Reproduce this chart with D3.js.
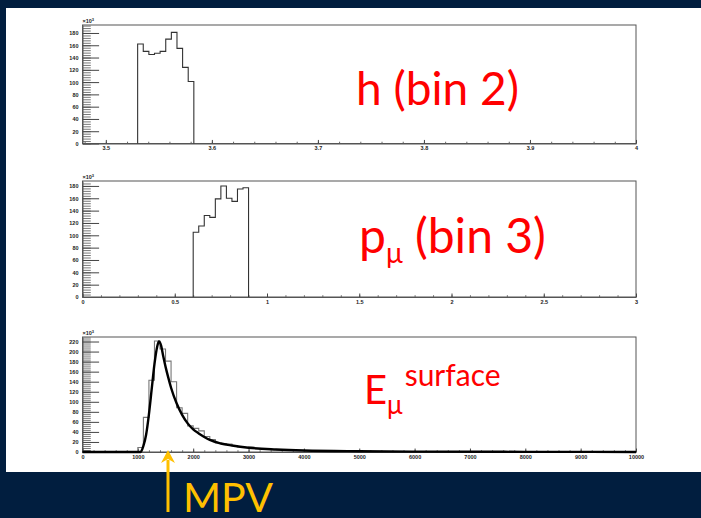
<!DOCTYPE html>
<html>
<head>
<meta charset="utf-8">
<script src="https://cdn.jsdelivr.net/npm/d3@7"></script>
<style>
  body { margin: 0; background: #011e3f; }
  svg { display: block; }
  .tick text { font-family: "Liberation Sans", Arial, sans-serif; font-weight: bold; font-size: 5.5px; fill: #222; }
  .lbl { font-family: Lato, "Open Sans", sans-serif; fill: #ff0000; }
</style>
</head>
<body>
<div id="chart"></div>
<script>
// histogram contents (units of 10^3 entries)
var hLo = 3.53, hHi = 3.583;
var hCounts = [162, 150, 145, 147, 150, 170, 181, 155, 124, 101];

var pLo = 0.6, pHi = 0.9;
var pCounts = [105, 115, 132, 129, 159, 180, 160, 155, 175, 177];

var eLo = 1000, eHi = 5000;
var eCounts = [9, 69, 143, 221, 205, 181, 140, 88, 77, 52,
               47, 42, 31, 25, 18, 17, 16, 13, 10, 9,
               10, 7, 6, 5, 5, 4, 4, 3, 3, 3,
               2, 2, 2, 2, 1, 1, 1, 1, 1, 1];

// landau-like fit drawn over the energy histogram
var fitX = [0, 1000, 1050, 1100, 1150, 1200, 1250, 1300, 1350, 1380, 1420, 1460, 1500, 1550, 1600,
            1700, 1800, 1900, 2000, 2100, 2200, 2300, 2500, 2700, 3000, 3500, 4000, 5000, 6000, 8000, 10000];
var fitY = [0, 0, 0, 12, 35, 75, 125, 175, 210, 220, 212, 190, 170, 148, 128,
            97, 74, 57, 45, 37, 30, 24, 17, 13, 8.5, 5, 3, 1.5, 0.8, 0.3, 0.1];

var hTicks = ["3.5", "3.6", "3.7", "3.8", "3.9", "4"];
var pTicks = ["0", "0.5", "1", "1.5", "2", "2.5", "3"];
var eTicks = ["0", "1000", "2000", "3000", "4000", "5000", "6000", "7000", "8000", "9000", "10000"];

var W = 701, H = 518;
var svg = d3.select("#chart").append("svg").attr("width", W).attr("height", H);

svg.append("rect").attr("width", W).attr("height", H).attr("fill", "#011e3f");
svg.append("rect").attr("x", 6).attr("y", 8).attr("width", W - 6).attr("height", 464).attr("fill", "#ffffff");

function drawPanel(cfg) {
  var g = svg.append("g").attr("transform", `translate(${cfg.left}, ${cfg.top})`);
  var w = cfg.width, h = cfg.height;

  var x = d3.scaleLinear().domain(cfg.xdom).range([0, w]);
  var y = d3.scaleLinear().domain([0, cfg.ymax]).range([h, 0]);

  // frame
  g.append("rect").attr("width", w).attr("height", h)
    .attr("fill", "none").attr("stroke", "#555").attr("stroke-width", 1);

  // y axis, ticks pointing inward like ROOT
  var yMajor = d3.range(0, cfg.ymax, 20);
  var yMinor = d3.range(0, cfg.ymax, 4);
  g.append("g").call(d3.axisLeft(y).tickValues(yMinor).tickSize(-w * 0.015).tickFormat(""))
    .call(s => s.select(".domain").remove())
    .selectAll("line").attr("stroke", "#777");
  g.append("g").call(d3.axisLeft(y).tickValues(yMajor).tickSize(-w * 0.03).tickPadding(4).tickSizeOuter(0))
    .call(s => s.select(".domain").attr("stroke", "#555"))
    .call(s => s.selectAll("text").attr("dy", "0.35em"))
    .selectAll("line").attr("stroke", "#444");

  // x axis
  var xMajor = cfg.xticks.map(Number);
  var step = (xMajor[1] - xMajor[0]) / 5;
  var xMinor = d3.range(cfg.xdom[0], cfg.xdom[1] + step / 2, step / 1)
    .map(v => Math.round((v - xMajor[0]) / step) * step + xMajor[0])
    .filter(v => v >= cfg.xdom[0] && v <= cfg.xdom[1] + 1e-9);
  var xa = g.append("g").attr("transform", `translate(0, ${h})`);
  xa.append("g").call(d3.axisBottom(x).tickValues(xMinor).tickSize(-h * 0.015).tickFormat(""))
    .call(s => s.select(".domain").remove())
    .selectAll("line").attr("stroke", "#666");
  xa.append("g").call(d3.axisBottom(x).tickValues(xMajor).tickSize(-h * 0.03).tickPadding(3).tickSizeOuter(0)
      .tickFormat((d, i) => cfg.xticks[i]))
    .call(s => s.select(".domain").attr("stroke", "#555"))
    .call(s => s.selectAll("text").attr("dy", "0.71em"))
    .selectAll("line").attr("stroke", "#444");

  // x10^3 exponent label
  var ex = g.append("text").attr("x", 0).attr("y", -2)
    .attr("font-family", "Liberation Sans, sans-serif").attr("font-size", 5.5).attr("font-weight", "bold").attr("fill", "#222");
  ex.append("tspan").text("\u00d710");
  ex.append("tspan").attr("dy", -2).attr("font-size", 4).text("3");

  // histogram outline
  var n = cfg.counts.length;
  var bw = (cfg.hi - cfg.lo) / n;
  var pts = [[cfg.lo, 0]];
  cfg.counts.forEach(function(c, i) {
    pts.push([cfg.lo + i * bw, c]);
    pts.push([cfg.lo + (i + 1) * bw, c]);
  });
  pts.push([cfg.hi, 0]);
  g.append("path")
    .attr("d", d3.line().x(d => x(d[0])).y(d => y(d[1]))(pts))
    .attr("fill", "none").attr("stroke", cfg.fit ? "#777" : "#333").attr("stroke-width", 1.1);

  if (cfg.fit) {
    var fp = cfg.fit[0].map((v, i) => [v, cfg.fit[1][i]]);
    g.append("path")
      .attr("d", d3.line().x(d => x(d[0])).y(d => y(d[1])).curve(d3.curveMonotoneX)(fp))
      .attr("fill", "none").attr("stroke", "#000").attr("stroke-width", 2.4);
  }
  return g;
}

drawPanel({ left: 82.5, top: 25, width: 553.5, height: 118.5, xdom: [3.478, 4.0], ymax: 193,
            xticks: hTicks, lo: hLo, hi: hHi, counts: hCounts });
drawPanel({ left: 82.5, top: 181, width: 553.5, height: 116, xdom: [0, 3], ymax: 188,
            xticks: pTicks, lo: pLo, hi: pHi, counts: pCounts });
drawPanel({ left: 82.5, top: 337, width: 553.5, height: 115, xdom: [0, 10000], ymax: 229,
            xticks: eTicks, lo: eLo, hi: eHi, counts: eCounts, fit: [fitX, fitY] });

// red annotations
svg.append("text").attr("class", "lbl").attr("x", 356).attr("y", 105).attr("font-size", 46).text("h (bin 2)");

var pl = svg.append("text").attr("class", "lbl").attr("x", 359).attr("y", 253).attr("font-size", 48);
pl.append("tspan").text("p");
pl.append("tspan").attr("dy", 10).attr("font-size", 28).text("\u03bc");
pl.append("tspan").attr("dy", -10).text(" (bin 3)");

var el = svg.append("text").attr("class", "lbl").attr("x", 364).attr("y", 404).attr("font-size", 40);
el.append("tspan").text("E");
el.append("tspan").attr("dy", 10).attr("font-size", 26).text("\u03bc");
el.append("tspan").attr("dy", -28).attr("dx", 2).attr("font-size", 30).text("surface");

// MPV marker
var gold = "#ffc000";
svg.append("line").attr("x1", 168).attr("x2", 168).attr("y1", 460).attr("y2", 512)
  .attr("stroke", gold).attr("stroke-width", 3);
svg.append("path").attr("d", "M168,450 L161,463 L168,459 L175,463 Z").attr("fill", gold);
svg.append("text").attr("x", 183).attr("y", 512).attr("font-family", "Lato, sans-serif")
  .attr("font-size", 41).attr("fill", gold).text("MPV");
</script>
</body>
</html>
